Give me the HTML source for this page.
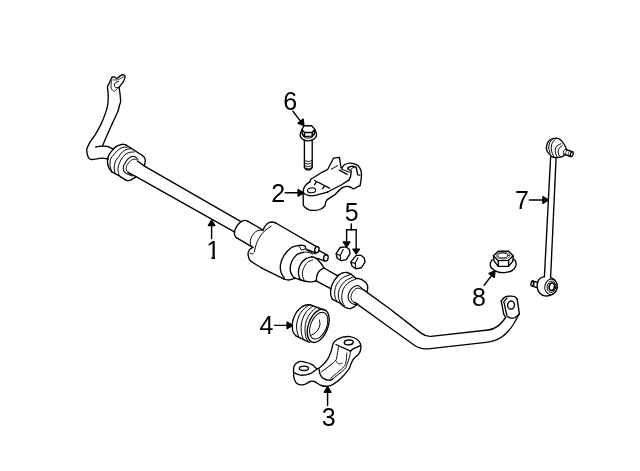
<!DOCTYPE html>
<html><head><meta charset="utf-8"><title>Stabilizer bar diagram</title>
<style>
html,body{margin:0;padding:0;background:#fff;}
svg{display:block}
svg path, svg ellipse{stroke:#000;stroke-linecap:round;stroke-linejoin:round}
svg text{font-family:"Liberation Sans",Arial,sans-serif;font-size:25px;fill:#000;stroke:none;filter:grayscale(1)}
</style></head><body>
<svg width="640" height="471" viewBox="0 0 640 471" stroke-width="1.35">
<rect width="640" height="471" fill="#fff" stroke="none"/>
<path d="M112.2,77.2 C112.0,77.5 111.5,78.2 111.0,79.3 C110.5,80.4 109.5,82.5 108.9,83.8 C108.3,85.1 107.6,85.4 107.5,87.2 C107.4,89.0 108.2,91.8 108.2,94.8 C108.2,97.8 108.2,101.9 107.7,105.0 C107.2,108.1 106.4,110.4 105.3,113.6 C104.2,116.8 102.7,120.6 101.0,124.1 C99.3,127.6 97.0,131.7 95.3,134.6 C93.5,137.5 91.8,139.2 90.5,141.3 C89.2,143.4 88.2,145.5 87.6,147.0 C87.0,148.5 86.6,148.6 86.7,150.3 C86.8,152.0 87.5,155.9 88.3,157.4 C89.1,158.9 89.2,159.4 91.5,159.5 C93.8,159.6 99.0,158.3 101.8,158.2 C104.6,158.1 107.1,158.9 108.2,159.0" fill="none"/>
<path d="M119.2,87.7 C119.3,88.9 119.9,92.5 120.1,94.8 C120.3,97.1 120.7,99.8 120.6,101.5 C120.5,103.2 120.1,103.3 119.6,105.0 C119.1,106.7 118.9,108.7 117.7,111.7 C116.5,114.7 114.2,119.4 112.5,123.1 C110.8,126.8 109.4,129.9 107.7,133.7 C106.0,137.5 103.3,144.0 102.4,146.1" fill="none"/>
<path d="M95.8,147.0 C96.3,146.9 97.9,146.6 99.0,146.4 C100.1,146.2 101.0,146.1 102.4,146.1 C103.9,146.1 105.9,145.9 107.7,146.5 C109.5,147.1 112.5,148.9 113.4,149.4" fill="none"/>
<path d="M112.2,77.2 C112.5,77.2 113.5,76.7 114.3,76.9 C115.0,77.1 115.9,78.4 116.7,78.4 C117.5,78.4 118.3,77.4 119.0,76.9 C119.7,76.4 120.0,75.8 120.8,75.4 C121.5,75.1 122.8,74.7 123.5,74.8 C124.2,74.9 124.8,75.4 125.0,76.0 C125.2,76.6 125.0,77.4 124.7,78.4 C124.4,79.5 123.8,81.0 122.9,82.3 C122.1,83.6 120.2,85.6 119.6,86.5 C119.0,87.4 119.3,87.5 119.2,87.7" fill="none"/>
<path d="M112.8,79.9 C113.5,79.9 116.1,80.0 117.3,79.8 C118.5,79.6 119.2,79.1 120.2,78.6 C121.2,78.1 123.0,77.2 123.5,76.9" fill="none" stroke-width="0.8"/>
<path d="M118.5,81.4 C118.0,81.6 116.2,81.9 115.5,82.6 C114.8,83.2 114.3,84.5 114.3,85.3 C114.3,86.1 114.9,86.9 115.5,87.3 C116.1,87.7 117.5,87.5 117.9,87.6" fill="none" stroke-width="1.0"/>
<path d="M111.6,80.8 C111.5,81.5 111.0,84.0 111.0,85.3 C111.0,86.6 111.1,87.8 111.6,88.8 C112.0,89.8 113.0,91.0 113.7,91.2 C114.5,91.4 115.3,90.7 116.1,90.0 C116.9,89.3 118.1,87.5 118.5,87.0" fill="none" stroke-width="0.9"/>
<path d="M113.4,149.0 C113.8,148.6 114.9,147.3 116.0,146.6 C117.1,145.9 118.8,145.2 120.1,144.8 C121.4,144.4 122.7,144.2 123.7,144.3 C124.7,144.4 125.8,145.0 126.2,145.1" fill="none"/>
<path d="M126.2,145.1 L142.0,155.3" fill="none"/>
<path d="M142.0,155.3 C142.4,155.6 143.8,156.5 144.3,157.3 C144.9,158.2 145.3,159.0 145.3,160.4 C145.3,161.8 144.5,164.9 144.3,165.8" fill="none"/>
<path d="M113.4,149.0 C112.7,149.9 110.1,152.9 109.1,154.7 C108.1,156.4 107.8,157.9 107.6,159.5 C107.4,161.1 107.5,162.7 107.8,164.1 C108.0,165.5 108.4,166.9 109.1,168.2 C109.8,169.5 111.3,171.2 111.7,171.8" fill="none"/>
<path d="M111.7,171.8 L119.3,175.9 L125.4,179.9" fill="none"/>
<path d="M125.4,179.9 C125.9,180.0 127.3,180.9 128.5,180.7 C129.7,180.5 131.4,179.5 132.6,178.9 C133.8,178.3 135.1,177.2 135.6,176.9" fill="none"/>
<path d="M127.0,147.5 C126.6,147.4 125.6,146.9 124.4,147.1 C123.2,147.3 121.2,147.8 119.8,148.7 C118.4,149.5 117.5,150.6 116.0,152.2 C114.5,153.8 112.1,156.3 111.1,158.0 C110.1,159.7 110.3,160.7 110.1,162.1 C109.9,163.5 109.9,164.9 110.1,166.2 C110.3,167.5 110.8,168.8 111.1,169.7 C111.4,170.6 111.8,171.3 111.9,171.6" fill="none" stroke-width="1.0"/>
<path d="M130.8,148.9 C130.2,148.9 128.6,148.7 127.2,149.2 C125.8,149.7 124.0,150.4 122.6,151.7 C121.2,153.0 119.8,155.2 118.6,156.8 C117.4,158.4 116.3,159.7 115.6,161.0 C114.9,162.3 114.8,163.3 114.6,164.5 C114.4,165.7 114.1,166.8 114.2,168.2 C114.3,169.6 114.9,172.0 115.0,172.8" fill="none" stroke-width="1.0"/>
<path d="M133.9,152.0 C133.3,152.0 131.6,151.9 130.3,152.2 C129.0,152.5 127.5,153.0 126.2,153.8 C124.9,154.7 123.7,155.8 122.6,157.3 C121.5,158.9 120.2,161.3 119.4,163.1 C118.6,164.9 118.2,166.5 118.0,168.2 C117.8,169.9 118.3,172.1 118.5,173.3 C118.7,174.5 119.2,175.1 119.3,175.4" fill="none" stroke-width="1.0"/>
<path d="M137.9,159.4 C137.6,159.1 136.7,157.8 135.9,157.3 C135.1,156.8 134.2,156.3 133.3,156.3 C132.4,156.3 131.3,156.7 130.3,157.3 C129.3,157.9 128.1,158.9 127.2,159.9 C126.3,160.9 125.6,162.2 125.0,163.2 C124.4,164.2 123.9,164.6 123.6,165.7 C123.3,166.8 123.1,168.5 123.4,169.7 C123.7,170.9 124.6,172.0 125.4,172.8 C126.2,173.6 127.4,173.8 128.5,174.3 C129.6,174.8 131.4,175.7 132.0,176.0" fill="none" stroke-width="1.05"/>
<path d="M137.9,161.4 C137.7,161.1 137.1,160.0 136.4,159.6 C135.7,159.2 134.8,159.0 133.9,159.1 C133.0,159.2 131.7,159.8 130.8,160.4 C129.9,161.1 129.3,162.0 128.6,163.0 C127.9,164.0 126.8,165.0 126.4,166.2 C126.0,167.4 126.1,169.2 126.4,170.2 C126.7,171.2 127.7,172.0 128.0,172.3" fill="none" stroke-width="0.9"/>
<path d="M137.9,161.4 L144.0,165.8 L241.0,221.6" fill="none"/>
<path d="M128.0,172.3 L136.0,176.6 L234.8,232.1" fill="none"/>
<path d="M241.0,221.6 C241.6,221.4 243.2,220.5 244.3,220.4 C245.4,220.3 247.1,221.0 247.7,221.1" fill="none"/>
<path d="M247.7,221.1 L263.0,230.1" fill="none"/>
<path d="M241.0,221.6 C240.3,222.4 237.8,224.5 236.7,226.3 C235.6,228.1 234.5,230.8 234.3,232.5 C234.1,234.2 234.9,235.5 235.3,236.4 C235.7,237.3 236.5,237.6 236.7,237.8" fill="none"/>
<path d="M236.7,237.8 L252.9,247.3" fill="none"/>
<path d="M262.5,230.0 C261.5,230.2 258.4,230.2 256.7,231.1 C255.0,232.0 253.5,233.7 252.4,235.4 C251.3,237.2 250.4,239.8 250.2,241.6 C250.0,243.3 250.9,245.2 251.0,245.9" fill="none" stroke-width="1.0"/>
<path d="M271.1,226.3 C270.6,226.6 269.6,227.2 268.2,228.2 C266.8,229.2 264.7,230.6 263.0,232.5 C261.3,234.4 259.5,237.2 258.2,239.7 C256.9,242.2 255.9,245.3 255.3,247.3 C254.7,249.3 254.7,250.9 254.6,251.6" fill="none" stroke-width="1.0"/>
<path d="M263.0,230.1 C263.3,229.5 264.0,227.5 264.9,226.3 C265.8,225.1 267.0,223.7 268.2,223.0 C269.4,222.3 270.7,222.0 272.0,222.0 C273.3,222.0 275.2,222.8 275.8,223.0" fill="none"/>
<path d="M275.8,223.0 L314.7,245.6" fill="none"/>
<path d="M252.9,247.3 C252.3,247.7 250.4,248.7 249.6,249.7 C248.8,250.7 248.3,251.9 248.1,253.1 C247.9,254.3 248.2,255.6 248.6,256.9 C249.0,258.2 248.5,259.1 250.7,261.0 C252.9,262.9 259.9,266.9 261.8,268.1" fill="none"/>
<path d="M261.8,268.1 L284.1,279.2" fill="none"/>
<path d="M284.1,279.2 C285.0,279.3 287.3,280.1 289.2,280.0 C291.1,279.9 293.4,278.4 295.3,278.4 C297.2,278.4 298.7,279.4 300.9,280.0 C303.1,280.6 306.4,281.5 308.5,281.8 C310.6,282.1 312.3,281.8 313.6,281.6 C314.9,281.4 315.8,280.9 316.2,280.8" fill="none"/>
<path d="M250.1,253.1 L252.4,254.0 L253.4,253.2" fill="none" stroke-width="1.0"/>
<path d="M297.9,245.6 C296.8,245.9 293.5,246.1 291.2,247.7 C288.9,249.3 285.9,252.5 284.1,255.3 C282.3,258.1 281.0,261.6 280.5,264.5 C280.0,267.4 280.5,270.4 281.1,272.6 C281.7,274.8 283.6,276.9 284.1,277.7" fill="none"/>
<path d="M297.9,245.6 C298.6,245.6 300.7,245.2 301.9,245.3 C303.1,245.4 304.3,245.4 305.0,246.1 C305.7,246.8 305.5,248.5 306.0,249.2 C306.5,249.9 307.8,250.2 308.2,250.4" fill="none"/>
<path d="M299.4,246.7 L301.4,250.2 L305.3,248.8" fill="none" stroke-width="1.0"/>
<path d="M303.5,252.3 C302.4,252.7 298.8,253.3 296.8,254.8 C294.8,256.3 292.8,258.9 291.7,261.4 C290.6,263.9 290.1,267.2 290.2,269.6 C290.3,272.0 291.4,274.3 292.3,275.7 C293.2,277.1 294.8,277.8 295.3,278.2" fill="none"/>
<path d="M303.5,252.3 C304.2,252.3 306.5,251.9 308.0,252.2 C309.5,252.5 311.8,253.9 312.5,254.2" fill="none" stroke-width="1.0"/>
<path d="M311.6,256.8 C310.6,257.1 307.4,257.6 305.5,258.9 C303.6,260.2 301.6,262.4 300.4,264.5 C299.2,266.6 298.6,269.4 298.4,271.6 C298.2,273.8 299.0,276.3 299.4,277.7 C299.8,279.1 300.6,279.4 300.9,279.8" fill="none"/>
<path d="M312.6,259.9 C311.8,260.3 309.0,261.0 307.5,262.4 C306.0,263.8 304.4,266.4 303.5,268.5 C302.6,270.6 302.3,272.8 302.4,274.7 C302.5,276.6 303.7,278.9 304.0,279.8" fill="none" stroke-width="1.0"/>
<path d="M311.6,256.8 C312.4,257.1 314.5,257.1 316.2,258.4 C317.9,259.7 320.5,262.9 321.8,264.5 C323.1,266.1 323.5,267.4 323.8,268.0" fill="none"/>
<ellipse cx="316.9" cy="249.7" rx="2.1" ry="3.1" fill="none" transform="rotate(12 316.9 249.7)"/>
<path d="M314.7,245.6 L317.2,246.7" fill="none"/>
<path d="M306.5,249.4 L316.2,252.8" fill="none"/>
<path d="M308.5,251.2 L315.5,254.0" fill="none" stroke-width="1.0"/>
<path d="M319.2,250.7 L326.9,254.8" fill="none"/>
<ellipse cx="325.9" cy="257.9" rx="2.2" ry="3.2" fill="none" transform="rotate(12 325.9 257.9)"/>
<path d="M317.2,258.4 L324.3,260.9" fill="none"/>
<path d="M323.8,268.0 L337.3,275.6" fill="none"/>
<path d="M323.8,268.0 C323.1,268.4 320.9,269.5 319.8,270.6 C318.7,271.7 317.8,273.0 317.2,274.7 C316.6,276.4 316.4,279.8 316.2,280.8" fill="none"/>
<path d="M316.2,280.8 L331.1,288.9" fill="none"/>
<path d="M337.3,275.6 C337.6,275.5 338.3,275.1 339.2,274.7 C340.1,274.2 341.4,273.3 342.7,272.9 C344.0,272.5 345.8,272.3 347.2,272.5 C348.6,272.7 350.5,274.0 351.2,274.3" fill="none"/>
<path d="M351.2,274.3 L355.7,278.3" fill="none"/>
<path d="M355.7,278.3 C356.0,278.3 356.5,278.3 357.5,278.5 C358.5,278.7 360.5,278.9 361.9,279.6 C363.3,280.3 364.9,281.6 365.9,282.7 C366.9,283.8 367.5,284.9 367.7,286.3 C367.9,287.7 367.4,290.4 367.3,291.2" fill="none"/>
<path d="M339.2,274.7 C338.4,275.7 335.6,278.4 334.3,280.5 C333.0,282.6 331.7,285.2 331.1,287.6 C330.5,290.0 330.5,292.9 330.7,294.8 C330.9,296.8 332.2,298.6 332.5,299.3" fill="none"/>
<path d="M332.5,299.3 L339.6,302.8 L342.7,305.5" fill="none"/>
<path d="M342.7,305.5 C343.2,305.9 344.6,307.2 345.9,307.7 C347.2,308.2 348.8,308.8 350.3,308.6 C351.8,308.4 353.6,307.2 354.8,306.4 C356.0,305.6 357.1,304.1 357.5,303.7" fill="none"/>
<path d="M350.3,274.7 C349.0,275.2 344.9,276.2 342.7,277.8 C340.5,279.4 338.2,281.9 336.9,284.1 C335.6,286.3 335.0,289.0 334.7,291.2 C334.4,293.4 334.7,295.9 335.1,297.5 C335.5,299.1 336.6,300.4 336.9,301.0" fill="none" stroke-width="1.0"/>
<path d="M353.4,276.9 C352.1,277.5 348.0,278.9 345.9,280.5 C343.8,282.1 341.8,284.6 340.5,286.8 C339.2,289.0 338.5,291.7 338.3,293.9 C338.1,296.1 338.7,298.5 339.2,300.1 C339.7,301.7 341.0,303.1 341.4,303.7" fill="none" stroke-width="1.0"/>
<path d="M355.7,279.2 C354.6,279.7 351.0,280.8 349.0,282.3 C347.0,283.9 344.8,286.3 343.6,288.5 C342.4,290.7 342.0,293.5 341.8,295.7 C341.6,297.9 341.9,300.3 342.3,301.9 C342.8,303.5 344.1,304.9 344.5,305.5" fill="none" stroke-width="1.0"/>
<path d="M363.3,289.6 C362.9,289.2 361.6,287.9 360.6,287.2 C359.6,286.5 358.8,285.4 357.5,285.4 C356.2,285.4 354.4,286.1 353.0,287.2 C351.6,288.2 350.2,290.1 349.4,291.7 C348.6,293.3 348.1,295.1 348.1,296.6 C348.1,298.2 348.6,299.8 349.4,301.0 C350.1,302.2 351.5,303.1 352.6,303.7 C353.7,304.3 355.5,304.5 356.1,304.6" fill="none" stroke-width="1.05"/>
<path d="M361.5,289.4 C360.9,289.2 359.1,288.0 357.9,288.1 C356.7,288.2 355.3,288.9 354.3,289.9 C353.3,290.9 352.2,292.6 351.7,293.9 C351.1,295.2 350.9,296.6 351.0,297.9 C351.1,299.2 352.0,300.8 352.6,301.5 C353.2,302.2 354.4,302.2 354.8,302.4" fill="none" stroke-width="0.9"/>
<path d="M363.3,289.6 L389.7,308.8 L416.5,329.6 L421.5,333.4 Q426,336.8 431,336.3 L488,330 C495,329.2 499.5,326 505.7,317.5" fill="none"/>
<path d="M354.8,302.4 L382.3,322.2 L409.1,341.5 L414,345 Q420.5,349.7 428,348.8 L486,342.3 C498,341 506,336 513.3,324.5 L519,314.3" fill="none"/>
<path d="M501.2,300.9 C501.8,300.3 503.6,297.9 505.0,297.1 C506.4,296.3 507.9,296.3 509.5,296.2 C511.1,296.1 513.3,296.2 514.6,296.7 C515.9,297.2 516.7,298.6 517.1,299.0" fill="none"/>
<path d="M517.1,299.0 L519.4,313.7" fill="none"/>
<path d="M519.4,313.7 C518.7,314.3 516.6,316.8 515.2,317.5 C513.8,318.2 512.1,318.3 510.8,318.1 C509.5,317.9 508.1,316.8 507.5,316.5" fill="none"/>
<path d="M501.2,300.9 L503.8,314.3 L505.7,317.5" fill="none"/>
<path d="M506.9,315.6 L503.8,301.6 L506.9,298.4" fill="none"/>
<ellipse cx="511" cy="305.1" rx="3.4" ry="4.1" fill="none" transform="rotate(10 511 305.1)"/>
<path d="M304.2,125.7 L311.6,125.7 L314.8,129.1 L312.2,132.5 L304.5,132.5 L301.9,129.5Z" fill="none"/>
<path d="M304.5,132.5 L304.5,136.4 L312.2,136.1 L312.2,132.5" fill="none"/>
<path d="M301.9,129.5 L302.2,133.8 L304.5,136.4" fill="none"/>
<path d="M314.8,129.1 L314.4,133.3 L312.2,136.1" fill="none"/>
<path d="M301.4,130.6 C301.2,131.2 300.3,133.2 300.2,134.3 C300.1,135.4 300.3,136.5 300.9,137.4 C301.5,138.3 302.5,139.3 303.7,139.9 C304.9,140.5 306.4,140.8 307.8,140.8 C309.2,140.8 311.1,140.5 312.4,139.9 C313.7,139.3 315.0,138.3 315.7,137.4 C316.4,136.5 316.6,135.4 316.5,134.3 C316.4,133.2 315.6,131.2 315.4,130.6" fill="none"/>
<path d="M302.2,133.8 C302.3,134.2 302.5,135.3 303.0,135.9 C303.5,136.5 304.4,137.2 305.3,137.6 C306.2,137.9 307.2,138.0 308.3,138.0 C309.4,138.0 311.0,137.8 311.9,137.4 C312.8,137.0 313.5,136.0 313.9,135.3 C314.3,134.6 314.3,133.6 314.4,133.3" fill="none" stroke-width="1.0"/>
<path d="M304.4,140.2 L304.4,167.4" fill="none"/>
<path d="M312.2,140.2 L312.2,167.4" fill="none"/>
<path d="M304.4,167.4 C304.6,167.7 305.0,168.7 305.6,169.1 C306.2,169.5 307.4,169.9 308.3,169.9 C309.2,169.9 310.4,169.5 311.0,169.1 C311.6,168.7 312.0,167.7 312.2,167.4" fill="none"/>
<path d="M304.4,160.4 C305.0,160.6 307.0,161.5 308.3,161.5 C309.6,161.5 311.6,160.6 312.2,160.4" fill="none" stroke-width="0.9"/>
<path d="M304.4,162.9 C305.0,163.1 307.0,164.0 308.3,164.0 C309.6,164.0 311.6,163.1 312.2,162.9" fill="none" stroke-width="0.9"/>
<path d="M304.4,165.4 C305.0,165.6 307.0,166.5 308.3,166.5 C309.6,166.5 311.6,165.6 312.2,165.4" fill="none" stroke-width="0.9"/>
<path d="M304.4,167.6 C305.0,167.8 307.0,168.7 308.3,168.7 C309.6,168.7 311.6,167.8 312.2,167.6" fill="none" stroke-width="0.9"/>
<path d="M303.1,192.4 C303.2,191.7 303.3,189.4 303.9,188.1 C304.5,186.8 305.5,185.4 306.5,184.3 C307.5,183.2 309.3,182.2 309.9,181.8" fill="none"/>
<path d="M309.9,181.8 L310.7,179.6 L311.6,178.8 L322.0,172.3 L327.5,169.7 L333.5,158.2 L339.4,157.4 L340.9,167.2 L342.0,168.0" fill="none"/>
<path d="M342.0,168.0 C342.4,167.5 342.9,165.8 344.1,165.0 C345.3,164.2 347.5,163.4 349.2,163.2 C350.9,163.0 352.8,163.3 354.3,163.8 C355.9,164.3 357.4,165.1 358.5,166.3 C359.6,167.5 360.6,169.1 361.1,171.0 C361.6,172.9 361.5,175.4 361.3,177.8 C361.1,180.2 360.4,184.1 360.2,185.4" fill="none"/>
<path d="M360.2,185.4 L353.4,189.0 L350.5,187.1" fill="none"/>
<path d="M350.5,187.1 C349.9,187.0 348.0,186.2 346.6,186.3 C345.2,186.4 343.8,186.8 342.4,187.6 C341.0,188.4 338.8,190.8 338.1,191.4" fill="none"/>
<path d="M338.1,191.4 L334.5,194.9 L327.3,199.6" fill="none"/>
<path d="M327.3,199.6 C327.0,200.0 326.0,201.1 325.6,202.2 C325.2,203.3 325.6,204.9 324.8,206.0 C324.0,207.1 322.5,208.3 320.9,209.0 C319.3,209.7 317.0,210.3 315.0,210.4 C313.0,210.5 310.8,210.4 309.0,209.8 C307.2,209.2 305.3,207.7 304.4,206.8 C303.4,205.9 303.5,204.7 303.3,204.3" fill="none"/>
<path d="M303.3,204.3 L303.1,192.4" fill="none"/>
<path d="M303.1,192.4 C303.5,192.8 304.3,193.9 305.6,194.5 C306.9,195.1 308.7,195.7 310.7,195.8 C312.7,195.9 314.7,195.5 317.5,194.9 C320.3,194.3 326.0,192.5 327.7,192.0" fill="none"/>
<path d="M327.7,192.0 L342.0,184.5 L349.2,179.9" fill="none"/>
<path d="M349.2,179.9 C349.4,179.3 350.1,178.0 350.5,176.5 C350.9,175.0 351.2,171.9 351.3,171.0" fill="none"/>
<ellipse cx="311.6" cy="190.3" rx="4.1" ry="2.4" fill="none" transform="rotate(-5 311.6 190.3)" stroke-width="1.0"/>
<path d="M314.6,180.5 L329.4,188.1" fill="none"/>
<path d="M316.3,182.2 L314.6,184.7" fill="none"/>
<path d="M324.3,186.0 L322.6,188.6" fill="none"/>
<path d="M331.3,169.3 L337.7,165.5" fill="none" stroke-width="1.0"/>
<path d="M339.4,170.1 L347.1,174.4" fill="none"/>
<path d="M341.1,168.9 L349.2,172.3" fill="none" stroke-width="1.0"/>
<path d="M347.9,169.7 C348.0,169.3 347.7,168.2 348.3,167.6 C348.9,167.0 350.2,166.5 351.3,166.3 C352.4,166.2 353.9,166.4 354.7,166.7 C355.5,167.0 356.1,167.8 356.4,168.0" fill="none"/>
<path d="M356.4,168.0 L357.7,174.8 L359.8,175.1" fill="none"/>
<path d="M348.3,167.6 C348.5,168.0 349.0,169.6 349.3,170.2 C349.6,170.8 349.9,171.6 350.2,171.4 C350.5,171.2 350.4,169.8 351.2,169.0 C351.9,168.2 354.1,167.2 354.7,166.9" fill="none" stroke-width="1.0"/>
<path d="M340.2,247.5 L346.0,246.8 L349.4,249.5 L350.0,253.6 L346.3,259.7 L341.2,260.7 L337.1,258.0 L336.1,253.6Z" fill="none"/>
<path d="M343.2,249.5 L340.2,255.6 L340.5,259.4" fill="none" stroke-width="1.1"/>
<path d="M340.2,255.6 L336.6,254.0" fill="none" stroke-width="1.1"/>
<path d="M356.2,255.3 L360.9,255.3 L364.3,258.0 L365.0,262.1 L361.6,267.5 L356.2,268.9 L352.1,266.2 L350.7,262.1Z" fill="none"/>
<path d="M357.9,257.7 L355.1,263.4 L355.8,267.9" fill="none" stroke-width="1.1"/>
<path d="M355.1,263.4 L351.2,262.3" fill="none" stroke-width="1.1"/>
<path d="M351.3,223.9 L351.3,229.8" fill="none" stroke-width="1.5"/>
<path d="M346.6,229.8 L356.2,229.8" fill="none" stroke-width="1.5"/>
<path d="M346.6,229.8 L346.6,242.0" stroke-width="1.4"/>
<path d="M346.6,246.8 L343.3,242.0 L349.9,242.0Z" fill="#000" stroke="none"/>
<path d="M356.2,229.8 L356.2,249.1" stroke-width="1.4"/>
<path d="M356.2,253.9 L352.9,249.1 L359.5,249.1Z" fill="#000" stroke="none"/>
<path d="M292.2,325.0 C292.3,324.2 292.4,322.0 293.0,320.0 C293.6,318.0 294.7,315.1 296.0,313.0 C297.3,310.9 299.3,308.8 301.0,307.5 C302.7,306.2 304.4,305.4 306.0,305.0 C307.6,304.6 309.7,304.8 310.4,304.8" fill="none"/>
<path d="M310.4,304.8 L323.9,310.0" fill="none"/>
<path d="M309.4,342.4 L296.0,335.9" fill="none"/>
<path d="M296.0,335.9 C295.5,335.2 293.6,333.7 293.0,331.9 C292.4,330.1 292.3,326.1 292.2,325.0" fill="none"/>
<ellipse cx="318.2" cy="325.8" rx="9.7" ry="17.4" fill="none" transform="rotate(20.7 318.2 325.8)"/>
<ellipse cx="318.7" cy="325.7" rx="8.0" ry="14.1" fill="none" transform="rotate(22.4 318.7 325.7)" stroke-width="1.0"/>
<path d="M309.4,305.0 C308.3,305.8 304.6,308.0 302.8,310.0 C301.0,312.0 299.5,314.5 298.5,317.0 C297.5,319.5 296.8,322.4 296.6,325.0 C296.4,327.6 297.0,330.8 297.4,332.9 C297.8,335.0 298.7,336.6 299.0,337.4" fill="none" stroke-width="1.0"/>
<path d="M312.9,306.0 C311.8,306.9 308.3,309.3 306.6,311.5 C304.9,313.7 303.4,316.4 302.5,319.0 C301.6,321.6 301.2,324.2 301.1,326.9 C301.0,329.5 301.4,332.8 301.8,334.9 C302.2,337.0 303.2,338.6 303.5,339.4" fill="none" stroke-width="1.0"/>
<path d="M316.4,307.5 C315.4,308.4 312.2,310.8 310.5,313.0 C308.8,315.2 307.3,317.9 306.4,320.5 C305.5,323.1 305.1,325.8 305.0,328.4 C304.9,331.0 305.3,334.3 305.7,336.4 C306.1,338.5 307.2,340.1 307.5,340.9" fill="none" stroke-width="1.0"/>
<path d="M319.4,320.0 C319.5,320.8 320.1,323.4 319.9,325.0 C319.6,326.6 318.9,328.4 317.9,329.9 C316.9,331.4 315.1,333.0 313.9,333.9 C312.6,334.8 311.0,335.1 310.4,335.4" fill="none" stroke-width="1.0"/>
<path d="M293.5,371.2 C293.5,368.9 293.4,367.2 294.3,365.6 C295.2,364.0 297.5,362.2 299.1,361.6 C300.7,361.0 301.6,361.4 303.9,361.9 C306.1,362.4 310.4,363.6 312.6,364.8 C314.9,366.0 315.6,368.9 317.4,368.8 C319.2,368.7 321.5,366.1 323.3,364.4 C325.1,362.7 326.8,360.6 328.1,358.4 C329.4,356.2 330.4,353.5 331.2,351.1 C332.0,348.7 332.2,345.7 333.0,343.9 C333.8,342.1 334.4,341.4 336.0,340.3 C337.6,339.2 340.3,337.8 342.6,337.2 C344.9,336.6 347.6,336.3 349.9,336.6 C352.2,336.9 354.9,337.9 356.6,339.0 C358.3,340.1 359.5,341.7 360.2,343.3 C360.9,344.9 361.0,347.0 360.8,348.7 C360.6,350.4 360.2,351.9 359.0,353.6 C357.8,355.3 354.9,357.1 353.5,359.0 C352.1,360.9 351.3,363.3 350.5,365.0 C349.7,366.7 350.4,367.0 348.7,369.3 C347.0,371.6 342.8,376.5 340.2,379.0 C337.6,381.5 335.0,383.2 333.0,384.4 C331.0,385.6 330.0,386.0 328.1,386.2 C326.2,386.4 323.7,386.3 321.4,385.5 C319.1,384.7 316.0,382.2 314.2,381.5 C312.4,380.8 312.0,381.0 310.3,381.5 C308.6,382.0 306.0,384.3 303.9,384.7 C301.8,385.1 299.1,384.8 297.5,383.9 C295.9,383.0 295.0,381.2 294.3,379.1 C293.6,377.0 293.5,373.4 293.5,371.2Z" fill="none"/>
<ellipse cx="303.9" cy="368.3" rx="4.6" ry="2.2" fill="none"/>
<ellipse cx="348.7" cy="342.4" rx="4.5" ry="2.4" fill="none" transform="rotate(-5 348.7 342.4)"/>
<path d="M294.3,372.8 C295.4,373.2 298.0,375.1 300.7,375.2 C303.4,375.3 307.5,374.7 310.3,373.6 C313.1,372.5 316.2,369.6 317.4,368.8" fill="none"/>
<path d="M319.1,369.3 C319.3,370.2 319.6,373.2 320.3,374.7 C321.0,376.2 321.8,377.4 323.3,378.3 C324.8,379.2 327.8,380.1 329.3,380.2 C330.8,380.3 331.9,379.4 332.4,379.2" fill="none"/>
<path d="M336.0,344.5 L350.5,351.1" fill="none"/>
<path d="M350.5,351.1 C351.0,350.7 351.9,349.6 353.5,348.7 C355.1,347.8 359.1,346.2 360.2,345.7" fill="none"/>
<path d="M338.4,346.9 C338.2,348.2 337.8,352.4 337.2,354.8 C336.6,357.2 337.4,358.6 334.8,361.4 C332.2,364.2 323.7,370.0 321.5,371.7" fill="none" stroke-width="1.0"/>
<path d="M336.0,360.8 C336.4,361.3 337.4,363.4 338.4,363.8 C339.4,364.2 341.4,363.3 342.0,363.2" fill="none" stroke-width="0.9"/>
<path d="M346.9,353.0 C346.7,354.7 346.4,360.7 345.7,363.2 C345.0,365.7 345.1,365.6 342.6,368.1 C340.1,370.6 332.6,376.6 330.6,378.3" fill="none" stroke-width="0.9"/>
<path d="M350.5,351.1 C350.3,352.1 350.1,355.0 349.5,357.2 C348.9,359.4 347.7,362.4 346.9,364.4 C346.1,366.4 347.0,366.8 344.5,369.3 C342.0,371.8 333.9,377.9 331.8,379.6" fill="none" stroke-width="1.0"/>
<path d="M546.4,147.3 C546.5,146.7 546.8,144.7 547.3,143.5 C547.8,142.3 548.7,141.1 549.6,140.3 C550.5,139.5 551.3,139.0 552.7,138.7 C554.1,138.4 556.4,138.1 557.8,138.4 C559.2,138.7 560.0,139.5 561.0,140.3 C562.0,141.2 562.8,142.3 563.6,143.5 C564.4,144.7 565.4,146.3 565.8,147.3 C566.2,148.3 566.0,149.1 566.1,149.5" fill="none"/>
<path d="M566.1,149.5 L572.2,151.7" fill="none"/>
<ellipse cx="571.8" cy="154.1" rx="1.3" ry="2.5" fill="none" transform="rotate(15 571.8 154.1)"/>
<path d="M570.6,156.5 L564.5,154.3" fill="none"/>
<path d="M564.5,154.3 C564.4,154.6 564.3,155.4 563.6,155.9 C562.9,156.4 561.6,156.9 560.4,157.2 C559.2,157.5 557.9,157.5 556.6,157.5 C555.3,157.5 553.9,157.7 552.7,157.2 C551.5,156.7 550.6,155.3 549.6,154.3 C548.6,153.3 547.5,152.3 547.0,151.1 C546.5,149.9 546.5,147.9 546.4,147.3" fill="none"/>
<path d="M552.6,139.0 C552.1,139.6 550.2,141.3 549.6,142.8 C549.0,144.3 548.6,146.2 548.7,147.9 C548.8,149.6 550.0,152.2 550.2,153.0" fill="none" stroke-width="1.0"/>
<path d="M555.0,139.6 C554.5,140.2 552.6,142.0 552.0,143.5 C551.4,145.0 551.1,146.9 551.2,148.6 C551.3,150.3 551.9,152.3 552.4,153.7 C552.9,155.1 553.7,156.4 554.0,157.0" fill="none" stroke-width="1.0"/>
<path d="M561.0,143.8 C560.4,144.1 558.2,144.8 557.2,145.7 C556.2,146.6 555.6,147.9 555.3,149.2 C555.0,150.5 555.3,152.5 555.6,153.7 C555.9,154.9 556.9,156.0 557.2,156.5" fill="none" stroke-width="1.0"/>
<path d="M562.3,145.7 C561.8,146.1 560.1,147.0 559.4,147.9 C558.7,148.8 558.3,149.9 558.2,151.1 C558.1,152.3 558.4,154.0 558.8,154.9 C559.2,155.8 560.1,156.4 560.4,156.7" fill="none" stroke-width="1.0"/>
<path d="M564.5,149.8 C564.3,150.2 563.4,151.2 563.3,152.0 C563.1,152.8 563.5,153.9 563.6,154.3" fill="none" stroke-width="0.9"/>
<path d="M566.8,150.3 C566.6,150.7 566.0,151.8 565.8,152.5 C565.6,153.2 565.6,154.3 565.6,154.7" fill="none" stroke-width="0.8"/>
<path d="M569.3,151.5 C569.1,151.8 568.5,152.8 568.3,153.5 C568.1,154.2 568.1,155.3 568.1,155.7" fill="none" stroke-width="0.8"/>
<path d="M550.6,157.1 L544.4,276.7" fill="none"/>
<path d="M556.1,157.6 L550.6,277.7" fill="none"/>
<path d="M544.4,276.7 C543.8,276.9 541.6,277.2 540.5,278.1 C539.4,279.0 538.2,280.4 537.7,282.0 C537.2,283.6 536.9,285.9 537.2,287.7 C537.5,289.5 538.3,291.6 539.6,293.0 C540.9,294.4 542.8,295.5 544.8,295.8 C546.8,296.1 549.6,295.8 551.5,294.9 C553.4,294.0 555.3,292.3 556.3,290.6 C557.2,288.9 557.4,286.6 557.2,284.8 C557.0,283.1 556.0,281.3 554.9,280.1 C553.8,278.9 551.3,278.1 550.6,277.7" fill="none"/>
<ellipse cx="551" cy="286.8" rx="6.2" ry="7.7" fill="none" transform="rotate(8 551 286.8)" stroke-width="1.0"/>
<ellipse cx="551.5" cy="286.8" rx="4.3" ry="5.7" fill="none" transform="rotate(8 551.5 286.8)" stroke-width="0.9"/>
<ellipse cx="551.8" cy="286.8" rx="2.6" ry="3.8" fill="none" transform="rotate(8 551.8 286.8)" stroke-width="1.6"/>
<path d="M532.4,281.0 L537.7,282.4" fill="none"/>
<path d="M532.9,286.3 L537.2,287.7" fill="none"/>
<ellipse cx="532.2" cy="283.6" rx="1.2" ry="2.6" fill="none" transform="rotate(8 532.2 283.6)"/>
<path d="M534.3,281.6 C534.2,282.0 533.9,283.2 533.9,284.0 C533.9,284.8 534.2,286.2 534.3,286.6" fill="none" stroke-width="0.9"/>
<path d="M493.4,255.8 L498.3,251.2 L508.6,251.2 L513.2,255.8 L508.6,260.3 L498.3,260.7Z" fill="none"/>
<ellipse cx="503.2" cy="255.6" rx="6.8" ry="3.5" fill="none" stroke-width="0.6"/>
<ellipse cx="503.0" cy="255.5" rx="5.1" ry="2.5" fill="none" stroke-width="0.9"/>
<path d="M493.4,255.8 L494.1,261.1 L498.3,266.3 L508.6,266.3 L512.9,261.1 L513.2,255.8" fill="none"/>
<path d="M498.3,260.7 L498.3,266.3" fill="none"/>
<path d="M508.6,260.3 L508.6,266.3" fill="none"/>
<path d="M492.2,259.6 C491.9,260.2 490.4,262.0 490.3,263.4 C490.2,264.8 490.3,266.6 491.5,268.0 C492.7,269.4 495.5,271.0 497.6,271.8 C499.8,272.6 502.0,272.8 504.4,272.6 C506.8,272.4 510.2,271.8 512.1,270.6 C514.0,269.5 515.3,267.3 515.9,265.7 C516.5,264.1 515.9,262.2 515.5,261.1 C515.1,260.0 513.9,259.5 513.6,259.2" fill="none"/>
<path d="M211.6,238.6 L211.6,225.5" stroke-width="1.4"/>
<path d="M211.6,220.0 L214.9,225.5 L208.3,225.5Z" fill="#000" stroke="none"/>
<path d="M285.2,192.8 L298.1,192.8" stroke-width="1.4"/>
<path d="M303.6,192.8 L298.1,196.1 L298.1,189.5Z" fill="#000" stroke="none"/>
<path d="M327.6,405.6 L327.6,392.2" stroke-width="1.4"/>
<path d="M327.6,386.7 L330.9,392.2 L324.3,392.2Z" fill="#000" stroke="none"/>
<path d="M274.6,325.4 L287.1,325.4" stroke-width="1.4"/>
<path d="M292.6,325.4 L287.1,328.7 L287.1,322.1Z" fill="#000" stroke="none"/>
<path d="M292.9,111.2 L300.5,121.1" stroke-width="1.4"/>
<path d="M303.9,125.5 L297.9,123.2 L303.2,119.1Z" fill="#000" stroke="none"/>
<path d="M529.4,200.0 L542.9,200.0" stroke-width="1.4"/>
<path d="M548.4,200.0 L542.9,203.3 L542.9,196.7Z" fill="#000" stroke="none"/>
<path d="M484.1,285.2 L491.7,275.4" stroke-width="1.4"/>
<path d="M495.0,271.0 L494.3,277.4 L489.0,273.4Z" fill="#000" stroke="none"/>
<text x="206.2" y="258.8">1</text>
<text x="271.2" y="201.8">2</text>
<text x="321.8" y="425.9">3</text>
<text x="259.4" y="333.9">4</text>
<text x="344.8" y="221.1">5</text>
<text x="283.3" y="110.0">6</text>
<text x="515.1" y="209.2">7</text>
<text x="472.0" y="305.6">8</text>
<rect x="205.5" y="256.3" width="6.0" height="3.4" fill="#fff" stroke="none"/>
<rect x="215.0" y="256.3" width="5.0" height="3.4" fill="#fff" stroke="none"/>
</svg>
</body></html>
